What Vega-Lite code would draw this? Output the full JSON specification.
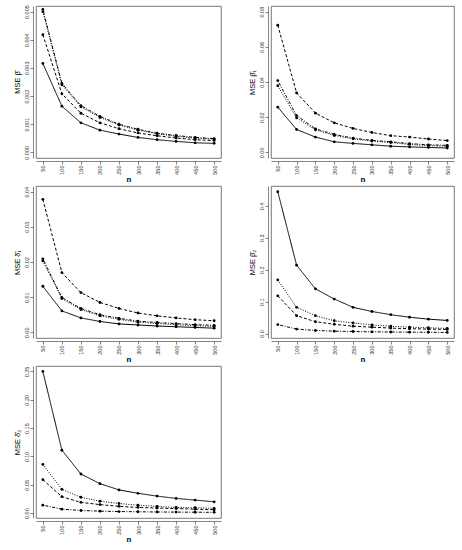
{
  "$schema": "https://vega.github.io/schema/vega-lite/v6.json",
  "padding": {"left": 12, "top": 4, "right": 0, "bottom": 0},
  "background": "white",
  "datasets": {
    "mse": [
      {"p": 1, "n": 50, "s": "solid", "v": 0.00316}, {"p": 1, "n": 100, "s": "solid", "v": 0.00164}, {"p": 1, "n": 150, "s": "solid", "v": 0.00105}, {"p": 1, "n": 200, "s": "solid", "v": 0.00079}, {"p": 1, "n": 250, "s": "solid", "v": 0.00065},
      {"p": 1, "n": 300, "s": "solid", "v": 0.00053}, {"p": 1, "n": 350, "s": "solid", "v": 0.00045}, {"p": 1, "n": 400, "s": "solid", "v": 0.00039}, {"p": 1, "n": 450, "s": "solid", "v": 0.00034}, {"p": 1, "n": 500, "s": "solid", "v": 0.00032},
      {"p": 1, "n": 50, "s": "dashed", "v": 0.00418}, {"p": 1, "n": 100, "s": "dashed", "v": 0.00208}, {"p": 1, "n": 150, "s": "dashed", "v": 0.00139}, {"p": 1, "n": 200, "s": "dashed", "v": 0.00105}, {"p": 1, "n": 250, "s": "dashed", "v": 0.00084},
      {"p": 1, "n": 300, "s": "dashed", "v": 0.00069}, {"p": 1, "n": 350, "s": "dashed", "v": 0.00059}, {"p": 1, "n": 400, "s": "dashed", "v": 0.00051}, {"p": 1, "n": 450, "s": "dashed", "v": 0.00045}, {"p": 1, "n": 500, "s": "dashed", "v": 0.00042},
      {"p": 1, "n": 50, "s": "dotted", "v": 0.00500}, {"p": 1, "n": 100, "s": "dotted", "v": 0.00240}, {"p": 1, "n": 150, "s": "dotted", "v": 0.00162}, {"p": 1, "n": 200, "s": "dotted", "v": 0.00124}, {"p": 1, "n": 250, "s": "dotted", "v": 0.00097},
      {"p": 1, "n": 300, "s": "dotted", "v": 0.00079}, {"p": 1, "n": 350, "s": "dotted", "v": 0.00066}, {"p": 1, "n": 400, "s": "dotted", "v": 0.00057}, {"p": 1, "n": 450, "s": "dotted", "v": 0.00051}, {"p": 1, "n": 500, "s": "dotted", "v": 0.00047},
      {"p": 1, "n": 50, "s": "dotdash", "v": 0.00508}, {"p": 1, "n": 100, "s": "dotdash", "v": 0.00245}, {"p": 1, "n": 150, "s": "dotdash", "v": 0.00166}, {"p": 1, "n": 200, "s": "dotdash", "v": 0.00128}, {"p": 1, "n": 250, "s": "dotdash", "v": 0.00100},
      {"p": 1, "n": 300, "s": "dotdash", "v": 0.00082}, {"p": 1, "n": 350, "s": "dotdash", "v": 0.00068}, {"p": 1, "n": 400, "s": "dotdash", "v": 0.00060}, {"p": 1, "n": 450, "s": "dotdash", "v": 0.00053}, {"p": 1, "n": 500, "s": "dotdash", "v": 0.00049},

      {"p": 2, "n": 50, "s": "solid", "v": 0.0257}, {"p": 2, "n": 100, "s": "solid", "v": 0.0130}, {"p": 2, "n": 150, "s": "solid", "v": 0.0087}, {"p": 2, "n": 200, "s": "solid", "v": 0.0060}, {"p": 2, "n": 250, "s": "solid", "v": 0.0051},
      {"p": 2, "n": 300, "s": "solid", "v": 0.0043}, {"p": 2, "n": 350, "s": "solid", "v": 0.0035}, {"p": 2, "n": 400, "s": "solid", "v": 0.0031}, {"p": 2, "n": 450, "s": "solid", "v": 0.0028}, {"p": 2, "n": 500, "s": "solid", "v": 0.0025},
      {"p": 2, "n": 50, "s": "dashed", "v": 0.0723}, {"p": 2, "n": 100, "s": "dashed", "v": 0.0338}, {"p": 2, "n": 150, "s": "dashed", "v": 0.0223}, {"p": 2, "n": 200, "s": "dashed", "v": 0.0168}, {"p": 2, "n": 250, "s": "dashed", "v": 0.0136},
      {"p": 2, "n": 300, "s": "dashed", "v": 0.0113}, {"p": 2, "n": 350, "s": "dashed", "v": 0.0095}, {"p": 2, "n": 400, "s": "dashed", "v": 0.0087}, {"p": 2, "n": 450, "s": "dashed", "v": 0.0076}, {"p": 2, "n": 500, "s": "dashed", "v": 0.0067},
      {"p": 2, "n": 50, "s": "dotted", "v": 0.0379}, {"p": 2, "n": 100, "s": "dotted", "v": 0.0196}, {"p": 2, "n": 150, "s": "dotted", "v": 0.0128}, {"p": 2, "n": 200, "s": "dotted", "v": 0.0096}, {"p": 2, "n": 250, "s": "dotted", "v": 0.0077},
      {"p": 2, "n": 300, "s": "dotted", "v": 0.0064}, {"p": 2, "n": 350, "s": "dotted", "v": 0.0056}, {"p": 2, "n": 400, "s": "dotted", "v": 0.0045}, {"p": 2, "n": 450, "s": "dotted", "v": 0.0038}, {"p": 2, "n": 500, "s": "dotted", "v": 0.0035},
      {"p": 2, "n": 50, "s": "dotdash", "v": 0.0408}, {"p": 2, "n": 100, "s": "dotdash", "v": 0.0209}, {"p": 2, "n": 150, "s": "dotdash", "v": 0.0134}, {"p": 2, "n": 200, "s": "dotdash", "v": 0.0102}, {"p": 2, "n": 250, "s": "dotdash", "v": 0.0081},
      {"p": 2, "n": 300, "s": "dotdash", "v": 0.0068}, {"p": 2, "n": 350, "s": "dotdash", "v": 0.0060}, {"p": 2, "n": 400, "s": "dotdash", "v": 0.0050}, {"p": 2, "n": 450, "s": "dotdash", "v": 0.0043}, {"p": 2, "n": 500, "s": "dotdash", "v": 0.0040},

      {"p": 3, "n": 50, "s": "solid", "v": 0.0131}, {"p": 3, "n": 100, "s": "solid", "v": 0.0061}, {"p": 3, "n": 150, "s": "solid", "v": 0.0041}, {"p": 3, "n": 200, "s": "solid", "v": 0.0031}, {"p": 3, "n": 250, "s": "solid", "v": 0.0024},
      {"p": 3, "n": 300, "s": "solid", "v": 0.0021}, {"p": 3, "n": 350, "s": "solid", "v": 0.0018}, {"p": 3, "n": 400, "s": "solid", "v": 0.0016}, {"p": 3, "n": 450, "s": "solid", "v": 0.0014}, {"p": 3, "n": 500, "s": "solid", "v": 0.0012},
      {"p": 3, "n": 50, "s": "dashed", "v": 0.0378}, {"p": 3, "n": 100, "s": "dashed", "v": 0.0170}, {"p": 3, "n": 150, "s": "dashed", "v": 0.0113}, {"p": 3, "n": 200, "s": "dashed", "v": 0.0085}, {"p": 3, "n": 250, "s": "dashed", "v": 0.0068},
      {"p": 3, "n": 300, "s": "dashed", "v": 0.0055}, {"p": 3, "n": 350, "s": "dashed", "v": 0.0047}, {"p": 3, "n": 400, "s": "dashed", "v": 0.0041}, {"p": 3, "n": 450, "s": "dashed", "v": 0.0036}, {"p": 3, "n": 500, "s": "dashed", "v": 0.0033},
      {"p": 3, "n": 50, "s": "dotted", "v": 0.0203}, {"p": 3, "n": 100, "s": "dotted", "v": 0.0096}, {"p": 3, "n": 150, "s": "dotted", "v": 0.0065}, {"p": 3, "n": 200, "s": "dotted", "v": 0.0047}, {"p": 3, "n": 250, "s": "dotted", "v": 0.0037},
      {"p": 3, "n": 300, "s": "dotted", "v": 0.0029}, {"p": 3, "n": 350, "s": "dotted", "v": 0.0025}, {"p": 3, "n": 400, "s": "dotted", "v": 0.0022}, {"p": 3, "n": 450, "s": "dotted", "v": 0.0019}, {"p": 3, "n": 500, "s": "dotted", "v": 0.0017},
      {"p": 3, "n": 50, "s": "dotdash", "v": 0.0209}, {"p": 3, "n": 100, "s": "dotdash", "v": 0.0099}, {"p": 3, "n": 150, "s": "dotdash", "v": 0.0068}, {"p": 3, "n": 200, "s": "dotdash", "v": 0.0050}, {"p": 3, "n": 250, "s": "dotdash", "v": 0.0040},
      {"p": 3, "n": 300, "s": "dotdash", "v": 0.0032}, {"p": 3, "n": 350, "s": "dotdash", "v": 0.0028}, {"p": 3, "n": 400, "s": "dotdash", "v": 0.0025}, {"p": 3, "n": 450, "s": "dotdash", "v": 0.0022}, {"p": 3, "n": 500, "s": "dotdash", "v": 0.0020},

      {"p": 4, "n": 50, "s": "solid", "v": 0.444}, {"p": 4, "n": 100, "s": "solid", "v": 0.214}, {"p": 4, "n": 150, "s": "solid", "v": 0.140}, {"p": 4, "n": 200, "s": "solid", "v": 0.108}, {"p": 4, "n": 250, "s": "solid", "v": 0.082},
      {"p": 4, "n": 300, "s": "solid", "v": 0.069}, {"p": 4, "n": 350, "s": "solid", "v": 0.059}, {"p": 4, "n": 400, "s": "solid", "v": 0.051}, {"p": 4, "n": 450, "s": "solid", "v": 0.045}, {"p": 4, "n": 500, "s": "solid", "v": 0.041},
      {"p": 4, "n": 50, "s": "dotted", "v": 0.168}, {"p": 4, "n": 100, "s": "dotted", "v": 0.082}, {"p": 4, "n": 150, "s": "dotted", "v": 0.056}, {"p": 4, "n": 200, "s": "dotted", "v": 0.040}, {"p": 4, "n": 250, "s": "dotted", "v": 0.033},
      {"p": 4, "n": 300, "s": "dotted", "v": 0.027}, {"p": 4, "n": 350, "s": "dotted", "v": 0.023}, {"p": 4, "n": 400, "s": "dotted", "v": 0.020}, {"p": 4, "n": 450, "s": "dotted", "v": 0.018}, {"p": 4, "n": 500, "s": "dotted", "v": 0.016},
      {"p": 4, "n": 50, "s": "dashed", "v": 0.118}, {"p": 4, "n": 100, "s": "dashed", "v": 0.056}, {"p": 4, "n": 150, "s": "dashed", "v": 0.037}, {"p": 4, "n": 200, "s": "dashed", "v": 0.029}, {"p": 4, "n": 250, "s": "dashed", "v": 0.023},
      {"p": 4, "n": 300, "s": "dashed", "v": 0.020}, {"p": 4, "n": 350, "s": "dashed", "v": 0.017}, {"p": 4, "n": 400, "s": "dashed", "v": 0.015}, {"p": 4, "n": 450, "s": "dashed", "v": 0.014}, {"p": 4, "n": 500, "s": "dashed", "v": 0.013},
      {"p": 4, "n": 50, "s": "dotdash", "v": 0.028}, {"p": 4, "n": 100, "s": "dotdash", "v": 0.014}, {"p": 4, "n": 150, "s": "dotdash", "v": 0.0096}, {"p": 4, "n": 200, "s": "dotdash", "v": 0.0074}, {"p": 4, "n": 250, "s": "dotdash", "v": 0.0064},
      {"p": 4, "n": 300, "s": "dotdash", "v": 0.0053}, {"p": 4, "n": 350, "s": "dotdash", "v": 0.0048}, {"p": 4, "n": 400, "s": "dotdash", "v": 0.0043}, {"p": 4, "n": 450, "s": "dotdash", "v": 0.0040}, {"p": 4, "n": 500, "s": "dotdash", "v": 0.0035},

      {"p": 5, "n": 50, "s": "solid", "v": 0.250}, {"p": 5, "n": 100, "s": "solid", "v": 0.111}, {"p": 5, "n": 150, "s": "solid", "v": 0.069}, {"p": 5, "n": 200, "s": "solid", "v": 0.052}, {"p": 5, "n": 250, "s": "solid", "v": 0.041},
      {"p": 5, "n": 300, "s": "solid", "v": 0.035}, {"p": 5, "n": 350, "s": "solid", "v": 0.030}, {"p": 5, "n": 400, "s": "solid", "v": 0.026}, {"p": 5, "n": 450, "s": "solid", "v": 0.023}, {"p": 5, "n": 500, "s": "solid", "v": 0.020},
      {"p": 5, "n": 50, "s": "dotted", "v": 0.086}, {"p": 5, "n": 100, "s": "dotted", "v": 0.042}, {"p": 5, "n": 150, "s": "dotted", "v": 0.028}, {"p": 5, "n": 200, "s": "dotted", "v": 0.021}, {"p": 5, "n": 250, "s": "dotted", "v": 0.017},
      {"p": 5, "n": 300, "s": "dotted", "v": 0.014}, {"p": 5, "n": 350, "s": "dotted", "v": 0.012}, {"p": 5, "n": 400, "s": "dotted", "v": 0.010}, {"p": 5, "n": 450, "s": "dotted", "v": 0.0095}, {"p": 5, "n": 500, "s": "dotted", "v": 0.0085},
      {"p": 5, "n": 50, "s": "dashed", "v": 0.059}, {"p": 5, "n": 100, "s": "dashed", "v": 0.029}, {"p": 5, "n": 150, "s": "dashed", "v": 0.019}, {"p": 5, "n": 200, "s": "dashed", "v": 0.015}, {"p": 5, "n": 250, "s": "dashed", "v": 0.012},
      {"p": 5, "n": 300, "s": "dashed", "v": 0.010}, {"p": 5, "n": 350, "s": "dashed", "v": 0.009}, {"p": 5, "n": 400, "s": "dashed", "v": 0.008}, {"p": 5, "n": 450, "s": "dashed", "v": 0.007}, {"p": 5, "n": 500, "s": "dashed", "v": 0.006},
      {"p": 5, "n": 50, "s": "dotdash", "v": 0.014}, {"p": 5, "n": 100, "s": "dotdash", "v": 0.007}, {"p": 5, "n": 150, "s": "dotdash", "v": 0.0047}, {"p": 5, "n": 200, "s": "dotdash", "v": 0.0035}, {"p": 5, "n": 250, "s": "dotdash", "v": 0.0028},
      {"p": 5, "n": 300, "s": "dotdash", "v": 0.0024}, {"p": 5, "n": 350, "s": "dotdash", "v": 0.0020}, {"p": 5, "n": 400, "s": "dotdash", "v": 0.0018}, {"p": 5, "n": 450, "s": "dotdash", "v": 0.0016}, {"p": 5, "n": 500, "s": "dotdash", "v": 0.0014}
    ]
  },
  "data": {"name": "mse"},
  "columns": 2,
  "spacing": {"row": 1, "column": 25},
  "concat": [
    {
      "width": 185, "height": 152,
      "transform": [{"filter": "datum.p == 1"}],
      "encoding": {
        "x": {"field": "n", "type": "quantitative", "scale": {"domain": [32, 518], "nice": false, "zero": false}, "axis": {"values": [50, 100, 150, 200, 250, 300, 350, 400, 450, 500], "title": "n"}},
        "y": {"field": "v", "type": "quantitative", "scale": {"domain": [-0.0002, 0.0052], "nice": false, "zero": false}, "axis": {"values": [0, 0.001, 0.002, 0.003, 0.004, 0.005], "format": ".3f", "title": "MSE β̂"}}
      },
      "layer": [
        {"mark": {"type": "line", "color": "black", "strokeWidth": 1}, "encoding": {"strokeDash": {"field": "s", "type": "nominal", "scale": {"domain": ["solid", "dashed", "dotted", "dotdash"], "range": [[1, 0], [3, 2], [1, 1.5], [1, 1.5, 3, 1.5]]}, "legend": null}}},
        {"mark": {"type": "point", "filled": true, "color": "black", "size": 8, "opacity": 1}}
      ]
    },
    {
      "width": 183, "height": 152,
      "transform": [{"filter": "datum.p == 2"}],
      "encoding": {
        "x": {"field": "n", "type": "quantitative", "scale": {"domain": [32, 518], "nice": false, "zero": false}, "axis": {"values": [50, 100, 150, 200, 250, 300, 350, 400, 450, 500], "title": "n"}},
        "y": {"field": "v", "type": "quantitative", "scale": {"domain": [-0.0032, 0.0832], "nice": false, "zero": false}, "axis": {"values": [0, 0.02, 0.04, 0.06, 0.08], "format": ".2f", "title": "MSE β̂₁"}}
      },
      "layer": [
        {"mark": {"type": "line", "color": "black", "strokeWidth": 1}, "encoding": {"strokeDash": {"field": "s", "type": "nominal", "scale": {"domain": ["solid", "dashed", "dotted", "dotdash"], "range": [[1, 0], [3, 2], [1, 1.5], [1, 1.5, 3, 1.5]]}, "legend": null}}},
        {"mark": {"type": "point", "filled": true, "color": "black", "size": 8, "opacity": 1}}
      ]
    },
    {
      "width": 185, "height": 152,
      "transform": [{"filter": "datum.p == 3"}],
      "encoding": {
        "x": {"field": "n", "type": "quantitative", "scale": {"domain": [32, 518], "nice": false, "zero": false}, "axis": {"values": [50, 100, 150, 200, 250, 300, 350, 400, 450, 500], "title": "n"}},
        "y": {"field": "v", "type": "quantitative", "scale": {"domain": [-0.0016, 0.0416], "nice": false, "zero": false}, "axis": {"values": [0, 0.01, 0.02, 0.03, 0.04], "format": ".2f", "title": "MSE δ̂₁"}}
      },
      "layer": [
        {"mark": {"type": "line", "color": "black", "strokeWidth": 1}, "encoding": {"strokeDash": {"field": "s", "type": "nominal", "scale": {"domain": ["solid", "dashed", "dotted", "dotdash"], "range": [[1, 0], [3, 2], [1, 1.5], [1, 1.5, 3, 1.5]]}, "legend": null}}},
        {"mark": {"type": "point", "filled": true, "color": "black", "size": 8, "opacity": 1}}
      ]
    },
    {
      "width": 183, "height": 152,
      "transform": [{"filter": "datum.p == 4"}],
      "encoding": {
        "x": {"field": "n", "type": "quantitative", "scale": {"domain": [32, 518], "nice": false, "zero": false}, "axis": {"values": [50, 100, 150, 200, 250, 300, 350, 400, 450, 500], "title": "n"}},
        "y": {"field": "v", "type": "quantitative", "scale": {"domain": [-0.014, 0.462], "nice": false, "zero": false}, "axis": {"values": [0, 0.1, 0.2, 0.3, 0.4], "format": ".1f", "title": "MSE β̂₂"}}
      },
      "layer": [
        {"mark": {"type": "line", "color": "black", "strokeWidth": 1}, "encoding": {"strokeDash": {"field": "s", "type": "nominal", "scale": {"domain": ["solid", "dashed", "dotted", "dotdash"], "range": [[1, 0], [3, 2], [1, 1.5], [1, 1.5, 3, 1.5]]}, "legend": null}}},
        {"mark": {"type": "point", "filled": true, "color": "black", "size": 8, "opacity": 1}}
      ]
    },
    {
      "width": 185, "height": 152,
      "transform": [{"filter": "datum.p == 5"}],
      "encoding": {
        "x": {"field": "n", "type": "quantitative", "scale": {"domain": [32, 518], "nice": false, "zero": false}, "axis": {"values": [50, 100, 150, 200, 250, 300, 350, 400, 450, 500], "title": "n"}},
        "y": {"field": "v", "type": "quantitative", "scale": {"domain": [-0.0086, 0.2596], "nice": false, "zero": false}, "axis": {"values": [0, 0.05, 0.1, 0.15, 0.2, 0.25], "format": ".2f", "title": "MSE δ̂₂"}}
      },
      "layer": [
        {"mark": {"type": "line", "color": "black", "strokeWidth": 1}, "encoding": {"strokeDash": {"field": "s", "type": "nominal", "scale": {"domain": ["solid", "dashed", "dotted", "dotdash"], "range": [[1, 0], [3, 2], [1, 1.5], [1, 1.5, 3, 1.5]]}, "legend": null}}},
        {"mark": {"type": "point", "filled": true, "color": "black", "size": 8, "opacity": 1}}
      ]
    }
  ],
  "config": {
    "view": {"stroke": "#555555", "strokeWidth": 0.8},
    "font": "Liberation Sans",
    "axis": {
      "grid": false,
      "domain": true,
      "domainColor": "#333333",
      "domainWidth": 0.6,
      "tickColor": "#333333",
      "tickWidth": 0.6,
      "tickSize": 3,
      "offset": 3,
      "labelAngle": -90,
      "labelFontSize": 5.5,
      "labelColor": "#333333",
      "labelPadding": 1,
      "titleFontSize": 7.5,
      "titleFontWeight": "normal",
      "titleColor": "black",
      "titlePadding": 3
    },
    "axisX": {"titleFontWeight": "bold", "titleFontSize": 8, "titlePadding": 1}
  }
}
